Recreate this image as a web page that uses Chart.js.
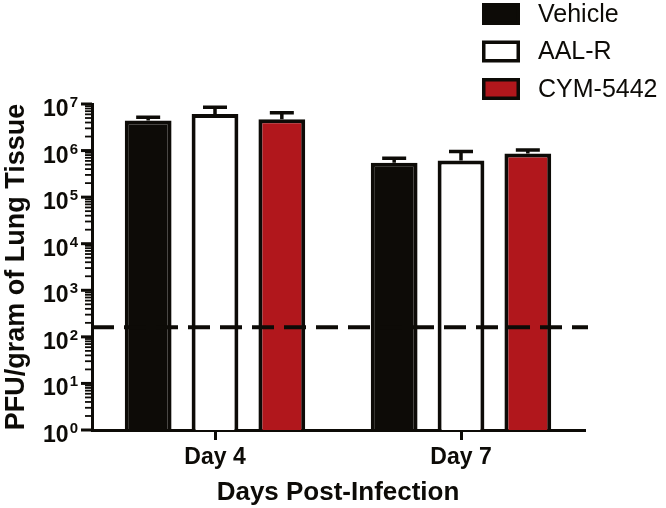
<!DOCTYPE html>
<html>
<head>
<meta charset="utf-8">
<script src="https://cdn.jsdelivr.net/npm/chart.js@4.4.1/dist/chart.umd.min.js"></script>
<style>
  html, body { margin: 0; padding: 0; background: #fff; }
  #wrap { width: 666px; height: 508px; }
</style>
</head>
<body>
<div id="wrap"><canvas id="myCanvas"></canvas></div>
<script>
// data
const categories = ['Day 4', 'Day 7'];
const seriesNames = ['Vehicle', 'AAL-R', 'CYM-5442'];
const vehicleMean = [4.4e6, 5.5e5];
const aalrMean = [6.1e6, 6.1e5];
const cymMean = [4.7e6, 8.7e5];
// top of the error bars (mean + SEM)
const vehicleUpper = [5.2e6, 6.8e5];
const aalrUpper = [8.5e6, 9.5e5];
const cymUpper = [6.5e6, 1.03e6];
const detectionLimit = 160;
const yMin = 1, yMax = 1e7;
const minorSteps = [2, 3, 4, 5, 6, 7, 8, 9];

const ink = '#0d0b07';
const red = '#b1171c';
const fonts = '"Liberation Sans", Arial, sans-serif';

// error bars + dashed limit of detection
const errorBars = {
    id: 'errorBars',
    afterDatasetsDraw(chart) {
        const ctx = chart.ctx;
        const y = chart.scales.y;
        const area = chart.chartArea;
        ctx.save();
        ctx.strokeStyle = ink;
        ctx.lineWidth = 3.5;
        chart.data.datasets.forEach((ds, i) => {
            const meta = chart.getDatasetMeta(i);
            meta.data.forEach((bar, j) => {
                const top = y.getPixelForValue(ds.data[j]);
                const hi = y.getPixelForValue(ds.upper[j]);
                ctx.beginPath();
                ctx.moveTo(bar.x, top);
                ctx.lineTo(bar.x, hi);
                ctx.moveTo(bar.x - 12, hi);
                ctx.lineTo(bar.x + 12, hi);
                ctx.stroke();
            });
        });
        const ly = y.getPixelForValue(detectionLimit);
        ctx.lineWidth = 4;
        ctx.setLineDash([22, 10]);
        ctx.beginPath();
        ctx.moveTo(area.left, ly);
        ctx.lineTo(area.right + 4, ly);
        ctx.stroke();
        ctx.restore();
    }
};

// log axis ticks with 10^n labels, and the legend box
const decor = {
    id: 'decor',
    afterDraw(chart) {
        const ctx = chart.ctx;
        const y = chart.scales.y;
        const left = chart.chartArea.left;
        ctx.save();
        ctx.strokeStyle = ink;
        ctx.fillStyle = ink;
        ctx.setLineDash([]);
        for (let p = 0; p <= 7; p++) {
            const d = Math.pow(10, p);
            const py = y.getPixelForValue(d);
            if (d < yMax) {
                ctx.lineWidth = 1.8;
                minorSteps.forEach(k => {
                    const my = y.getPixelForValue(k * d);
                    ctx.beginPath();
                    ctx.moveTo(left - 7, my);
                    ctx.lineTo(left, my);
                    ctx.stroke();
                });
            }
            ctx.lineWidth = 3;
            ctx.beginPath();
            ctx.moveTo(left - 11, py);
            ctx.lineTo(left, py);
            ctx.stroke();
            ctx.font = 'bold 15px ' + fonts;
            const sup = String(p);
            const supW = ctx.measureText(sup).width;
            const rightX = left - 14;
            ctx.textAlign = 'left';
            ctx.textBaseline = 'alphabetic';
            ctx.fillText(sup, rightX - supW, py + 3);
            ctx.font = 'bold 23px ' + fonts;
            ctx.textAlign = 'right';
            ctx.fillText('10', rightX - supW - 1, py + 12);
        }

        // legend
        ctx.font = '25px ' + fonts;
        ctx.textAlign = 'left';
        ctx.textBaseline = 'middle';
        chart.data.datasets.forEach((ds, i) => {
            const cy = 14 + i * 37.5;
            ctx.fillStyle = ds.backgroundColor;
            ctx.fillRect(482, cy - 11, 38, 22);
            ctx.lineWidth = 3.5;
            ctx.strokeStyle = ink;
            ctx.strokeRect(483.75, cy - 9.25, 34.5, 18.5);
            ctx.fillStyle = ink;
            ctx.fillText(ds.label, 538, cy + 1);
        });
        ctx.restore();
    }
};

function init() {
    const ctx = document.getElementById('myCanvas').getContext('2d');
    const myChart = new Chart(ctx, {
        type: 'bar',
        data: {
            labels: categories,
            datasets: [{
                label: seriesNames[0],
                data: vehicleMean,
                upper: vehicleUpper,
                backgroundColor: ink,
                borderColor: ink,
                borderWidth: 4
            }, {
                label: seriesNames[1],
                data: aalrMean,
                upper: aalrUpper,
                backgroundColor: '#ffffff',
                borderColor: ink,
                borderWidth: 4
            }, {
                label: seriesNames[2],
                data: cymMean,
                upper: cymUpper,
                backgroundColor: red,
                borderColor: ink,
                borderWidth: 4
            }]
        },
        options: {
            responsive: true,
            maintainAspectRatio: false,
            animation: false,
            categoryPercentage: 0.815,
            barPercentage: 0.7,
            layout: { padding: { top: 104, right: 82, bottom: 0, left: 0 } },
            plugins: {
                legend: { display: false },
                tooltip: { enabled: false }
            },
            scales: {
                x: {
                    grid: {
                        display: true,
                        drawOnChartArea: false,
                        offset: false,
                        tickLength: 10,
                        lineWidth: 3,
                        tickWidth: 3,
                        color: ink,
                        tickColor: ink
                    },
                    border: { display: true, color: ink, width: 3 },
                    ticks: {
                        color: ink,
                        padding: 4,
                        font: { family: fonts, size: 23, weight: 'bold' }
                    },
                    title: {
                        display: true,
                        text: 'Days Post-Infection',
                        color: ink,
                        font: { family: fonts, size: 26, weight: 'bold' },
                        padding: { top: 0, bottom: 0 }
                    },
                    afterFit(scale) { scale.height = 78; }
                },
                y: {
                    type: 'logarithmic',
                    min: yMin,
                    max: yMax,
                    grid: { display: false },
                    border: { display: true, color: ink, width: 3 },
                    ticks: { display: false },
                    title: {
                        display: true,
                        text: 'PFU/gram of Lung Tissue',
                        color: ink,
                        font: { family: fonts, size: 27, weight: 'bold' },
                        padding: { top: 0, bottom: 0 }
                    },
                    afterFit(scale) { scale.width = 92; }
                }
            }
        },
        plugins: [errorBars, decor]
    });
}

document.addEventListener('DOMContentLoaded', init);
</script>
</body>
</html>
